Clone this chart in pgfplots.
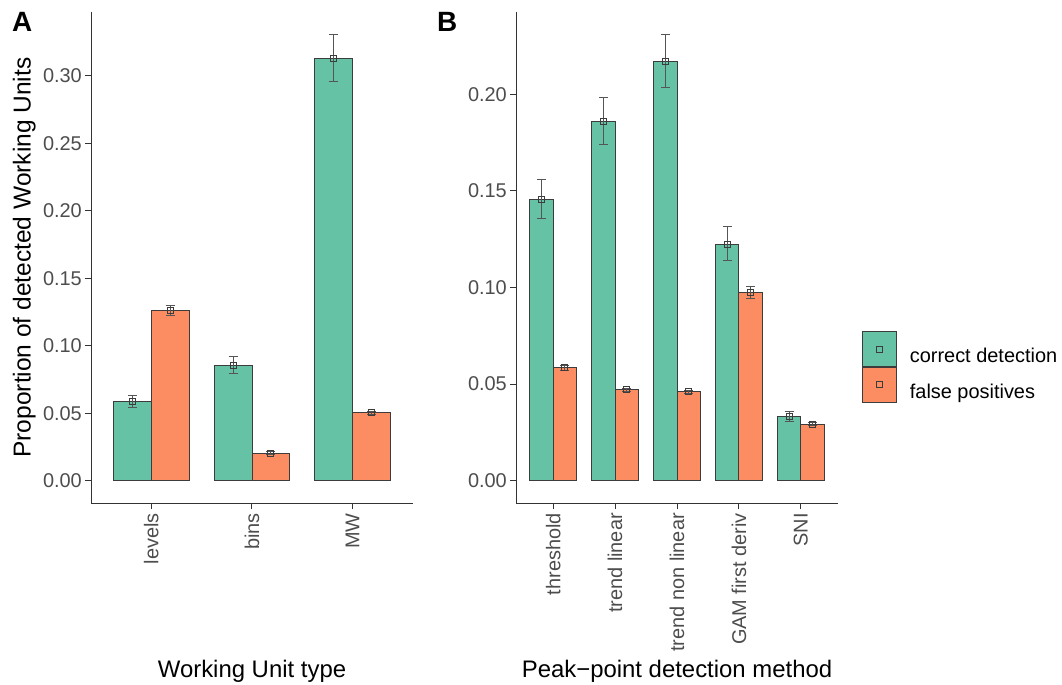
\documentclass[border=0pt]{standalone}
\usepackage{pgfplots}
\usepackage{pgfplotstable}
\pgfplotsset{compat=1.18}
\usepackage{fontspec}
\setmainfont{Liberation Sans}
\definecolor{setgreen}{HTML}{66C2A5}
\definecolor{setorange}{HTML}{FC8D62}
\definecolor{ticktext}{HTML}{4D4D4D}
\definecolor{outl}{HTML}{3C3C3C}
\definecolor{errc}{HTML}{555555}
\definecolor{axc}{HTML}{333333}

% Panel A: Working Unit type (levels, bins, MW)
\pgfplotstableread{
x y ep em
0.8125 0.0587 0.0047 0.0043
1.8125 0.0855 0.0064 0.0062
2.8125 0.3131 0.0177 0.0170
}\Agreen
\pgfplotstableread{
x y ep em
1.1875 0.1259 0.0037 0.0035
2.1875 0.0205 0.0010 0.0010
3.1875 0.0505 0.0012 0.0012
}\Aorange
% Panel B: Peak-point detection method
\pgfplotstableread{
x y ep em
0.8125 0.1457 0.0104 0.0099
1.8125 0.1858 0.0127 0.0119
2.8125 0.2169 0.0141 0.0135
3.8125 0.1224 0.0090 0.0084
4.8125 0.0332 0.0026 0.0026
}\Bgreen
\pgfplotstableread{
x y ep em
1.1875 0.0585 0.0012 0.0012
2.1875 0.0470 0.0008 0.0008
3.1875 0.0460 0.0008 0.0008
4.1875 0.0975 0.0032 0.0031
5.1875 0.0293 0.0007 0.0007
}\Borange

\pgfplotsset{
  panel/.style={
    scale only axis, width=322bp, height=491bp, clip=false,
    axis x line*=bottom, axis y line*=left,
    x axis line style={-, draw=axc, line width=1bp},
    y axis line style={-, draw=axc, line width=1bp},
    xtick align=outside, ytick align=outside,
    major tick length=6bp,
    major tick style={draw=axc, line width=1bp},
    scaled y ticks=false,
    /pgf/number format/assume math mode=true,
    ticklabel style={font=\fontsize{20}{24}\selectfont, text=ticktext},
    yticklabel style={inner xsep=3bp, /pgf/number format/.cd, fixed, fixed zerofill, precision=2},
    xticklabel style={rotate=90, anchor=east, inner xsep=4bp, inner ysep=0pt},
    xlabel style={font=\fontsize{24}{28}\selectfont, at={(axis description cs:0.5,-0.3544)}, anchor=base},
    ylabel style={font=\fontsize{24.6}{28}\selectfont, at={(axis description cs:-0.1873,0.5)}, anchor=base},
  },
  bars/.style={ybar, bar width=0.375, bar shift=0pt, fill=#1, draw=outl, line width=0.9bp, forget plot},
  pts/.style={only marks, mark=square, mark size=3bp, mark options={draw=outl, line width=0.9bp, fill=none}, forget plot,
    error bars/.cd, y dir=both, y explicit,
    error bar style={draw=errc, line width=0.9bp},
    error mark options={rotate=90, mark size=4.5bp, draw=errc, line width=0.9bp}},
  legkey/.style={legend image code/.code={
    \draw[fill=#1, draw=outl, line width=0.9bp] (0bp,-10bp) rectangle (34bp,25bp);
    \draw[draw=outl, line width=0.9bp] (14bp,4.5bp) rectangle (20bp,10.5bp);}},
}

\begin{document}
\begin{tikzpicture}
\path[use as bounding box] (0,0) rectangle (1062bp,685bp);

\begin{axis}[panel, at={(91bp,182bp)}, anchor=south west,
  xmin=0.4, xmax=3.6, ymin=-0.0165, ymax=0.3473,
  xtick={1,2,3}, xticklabels={levels,bins,MW},
  ytick={0,0.05,0.1,0.15,0.2,0.25,0.3},
  xlabel={Working Unit type},
  ylabel={Proportion of detected Working Units}]
\addplot[bars=setgreen] table[x=x,y=y] {\Agreen};
\addplot[bars=setorange] table[x=x,y=y] {\Aorange};
\addplot[pts] table[x=x,y=y,y error plus=ep,y error minus=em] {\Agreen};
\addplot[pts] table[x=x,y=y,y error plus=ep,y error minus=em] {\Aorange};
\pgfplotsinvokeforeach{1,2,3}{\draw[draw=axc, line width=1bp] (axis cs:#1,-0.0165) -- ++(0bp,-6bp);}
\pgfplotsinvokeforeach{0,0.05,0.1,0.15,0.2,0.25,0.3}{\draw[draw=axc, line width=1bp] (axis cs:0.4,#1) -- ++(-6bp,0bp);}
\end{axis}

\begin{axis}[panel, at={(516bp,182bp)}, anchor=south west,
  xmin=0.4, xmax=5.6, ymin=-0.01155, ymax=0.2426,
  xtick={1,2,3,4,5}, xticklabels={threshold,trend linear,trend non linear,GAM first deriv,SNI},
  ytick={0,0.05,0.1,0.15,0.2},
  xlabel={Peak−point detection method},
  legend style={at={(axis description cs:1.0745,0.3503)}, anchor=north west,
    draw=none, fill=none, inner sep=0pt, outer sep=0pt, row sep=0pt,
    font=\fontsize{20}{24}\selectfont, nodes={inner sep=0pt},
    /tikz/every odd column/.append style={column sep=13bp}},
  legend cell align=left]
\addlegendimage{legkey=setgreen}
\addlegendentry{correct detection}
\addlegendimage{legkey=setorange}
\addlegendentry{false positives}
\addplot[bars=setgreen] table[x=x,y=y] {\Bgreen};
\addplot[bars=setorange] table[x=x,y=y] {\Borange};
\addplot[pts] table[x=x,y=y,y error plus=ep,y error minus=em] {\Bgreen};
\addplot[pts] table[x=x,y=y,y error plus=ep,y error minus=em] {\Borange};
\pgfplotsinvokeforeach{1,2,3,4,5}{\draw[draw=axc, line width=1bp] (axis cs:#1,-0.01155) -- ++(0bp,-6bp);}
\pgfplotsinvokeforeach{0,0.05,0.1,0.15,0.2}{\draw[draw=axc, line width=1bp] (axis cs:0.4,#1) -- ++(-6bp,0bp);}
\end{axis}

\node[anchor=base west, inner sep=0pt, font=\fontsize{28}{32}\selectfont\bfseries] at (12bp,653bp) {A};
\node[anchor=base west, inner sep=0pt, font=\fontsize{28}{32}\selectfont\bfseries] at (437bp,653bp) {B};
\end{tikzpicture}
\end{document}
